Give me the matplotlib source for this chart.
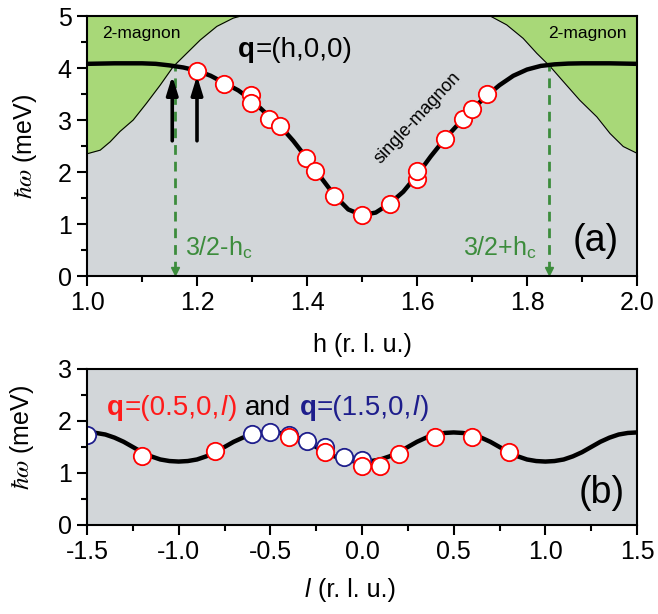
import matplotlib
matplotlib.use('Agg')
import matplotlib.pyplot as plt
import numpy as np
from matplotlib.ticker import MultipleLocator
from matplotlib.transforms import IdentityTransform

plt.rcParams['font.family'] = ['Liberation Sans', 'DejaVu Sans']
plt.rcParams['mathtext.fontset'] = 'stix'

# ---------------- data: panel (a) ----------------
h_curve = [1.000, 1.025, 1.050, 1.075, 1.100, 1.125, 1.150, 1.175, 1.200, 1.225,
           1.250, 1.275, 1.300, 1.325, 1.350, 1.375, 1.400, 1.425, 1.450, 1.475,
           1.500, 1.525, 1.550, 1.575, 1.600, 1.625, 1.650, 1.675, 1.700, 1.725,
           1.750, 1.775, 1.800, 1.825, 1.850, 1.875, 1.900, 1.925, 1.950, 1.975, 2.000]
e_curve = [4.08, 4.085, 4.09, 4.09, 4.09, 4.08, 4.05, 4.01, 3.95, 3.85,
           3.71, 3.57, 3.38, 3.13, 2.90, 2.60, 2.26, 1.90, 1.55, 1.28,
           1.17, 1.22, 1.39, 1.62, 1.94, 2.30, 2.63, 2.92, 3.20, 3.45,
           3.67, 3.85, 3.97, 4.04, 4.07, 4.085, 4.09, 4.09, 4.09, 4.085, 4.08]

h_data = [1.200, 1.249, 1.299, 1.299, 1.330, 1.350, 1.399, 1.415, 1.449,
          1.500, 1.551, 1.600, 1.600, 1.651, 1.684, 1.700, 1.728]
e_data = [3.95, 3.70, 3.49, 3.32, 3.01, 2.89, 2.26, 2.01, 1.54,
          1.17, 1.39, 1.87, 2.01, 2.63, 3.01, 3.22, 3.50]

# two-magnon continuum lower boundary
left_h = [1.000, 1.024, 1.042, 1.060, 1.084, 1.108, 1.133, 1.157, 1.181, 1.206, 1.236, 1.266, 1.280]
left_e = [2.35, 2.42, 2.58, 2.78, 3.00, 3.32, 3.67, 4.03, 4.28, 4.54, 4.80, 4.96, 5.00]
right_h = [1.720, 1.733, 1.763, 1.793, 1.818, 1.842, 1.866, 1.896, 1.927, 1.951, 1.975, 2.000]
right_e = [5.00, 5.00, 4.83, 4.57, 4.28, 4.03, 3.74, 3.38, 3.06, 2.74, 2.49, 2.36]

hc_left, hc_right = 1.16, 1.84
arrow_h = [1.155, 1.200]

# ---------------- data: panel (b) ----------------
l_curve = [-1.50, -1.45, -1.40, -1.35, -1.30, -1.25, -1.20, -1.15, -1.10, -1.05,
           -1.00, -0.95, -0.90, -0.85, -0.80, -0.75, -0.70, -0.65, -0.60, -0.55,
           -0.50, -0.45, -0.40, -0.35, -0.30, -0.25, -0.20, -0.15, -0.10, -0.05,
           0.00, 0.05, 0.10, 0.15, 0.20, 0.25, 0.30, 0.35, 0.40, 0.45,
           0.50, 0.55, 0.60, 0.65, 0.70, 0.75, 0.80, 0.85, 0.90, 0.95,
           1.00, 1.05, 1.10, 1.15, 1.20, 1.25, 1.30, 1.35, 1.40, 1.45, 1.50]
w_curve = [1.78, 1.77, 1.74, 1.68, 1.60, 1.50, 1.40, 1.32, 1.26, 1.23,
           1.22, 1.23, 1.26, 1.32, 1.40, 1.50, 1.60, 1.68, 1.74, 1.77,
           1.78, 1.77, 1.74, 1.68, 1.60, 1.50, 1.40, 1.32, 1.26, 1.23,
           1.22, 1.23, 1.26, 1.32, 1.40, 1.50, 1.60, 1.68, 1.74, 1.77,
           1.78, 1.77, 1.74, 1.68, 1.60, 1.50, 1.40, 1.32, 1.26, 1.23,
           1.22, 1.23, 1.26, 1.32, 1.40, 1.50, 1.60, 1.68, 1.74, 1.77, 1.78]

l_red = [-1.2, -0.8, -0.4, -0.2, 0.0, 0.1, 0.2, 0.4, 0.6, 0.8]
w_red = [1.33, 1.43, 1.69, 1.40, 1.14, 1.14, 1.36, 1.70, 1.70, 1.40]
l_blue = [-1.5, -0.6, -0.5, -0.4, -0.3, -0.2, -0.1, 0.0]
w_blue = [1.73, 1.75, 1.79, 1.73, 1.62, 1.50, 1.31, 1.25]

# ---------------- styling ----------------
GREY = '#d2d6d9'
GREEN = '#a8d878'
DGREEN = '#3c8c3c'
RED = '#ff1a1a'
NAVY = '#1e1e8c'
W, H = 658, 614

fig = plt.figure(figsize=(W / 100, H / 100), dpi=100)
ax1 = fig.add_axes([87 / W, 1 - 276 / H, 550 / W, 260 / H])
ax2 = fig.add_axes([87 / W, 1 - 525 / H, 550 / W, 156 / H])

for ax in (ax1, ax2):
    ax.set_facecolor(GREY)
    for s in ax.spines.values():
        s.set_linewidth(1.5)
        s.set_zorder(10)
    ax.tick_params(which='major', direction='out', length=7, width=1.5,
                   labelsize=18, pad=4)
    ax.tick_params(which='minor', direction='out', length=4, width=1.5)

# ---- panel (a)
ax1.fill_between(left_h, left_e, 5, color=GREEN, lw=0, zorder=1)
ax1.fill_between(right_h, right_e, 5, color=GREEN, lw=0, zorder=1)
ax1.plot(left_h, left_e, color='k', lw=0.8, zorder=1.5)
ax1.plot(right_h, right_e, color='k', lw=0.8, zorder=1.5)

for hx, top in ((hc_left, 4.05), (hc_right, 4.07)):
    ax1.plot([hx, hx], [0.1, top], ls=(0, (3.5, 2.5)), color=DGREEN, lw=2, zorder=2)
    ax1.plot([hx], [0.1], marker='v', ms=6, color=DGREEN, mec=DGREEN, zorder=2, clip_on=False)

ax1.plot(h_curve, e_curve, color='k', lw=3.2, zorder=3, solid_capstyle='butt')

for hx in arrow_h:
    ax1.annotate('', xy=(hx, 3.85), xytext=(hx, 2.6),
                 arrowprops=dict(arrowstyle='-|>,head_length=0.55,head_width=0.17',
                                 lw=2.6, color='k', shrinkA=0, shrinkB=0,
                                 mutation_scale=20), zorder=5)

ax1.plot(h_data, e_data, 'o', mfc='white', mec='red', ms=12.5, mew=1.3, zorder=4)

ax1.set_xlim(1.0, 2.0)
ax1.set_ylim(0, 5)
ax1.xaxis.set_minor_locator(MultipleLocator(0.1))
ax1.yaxis.set_major_locator(MultipleLocator(1))
ax1.yaxis.set_minor_locator(MultipleLocator(0.5))
ax1.set_xticks([1.0, 1.2, 1.4, 1.6, 1.8, 2.0])
ax1.set_xticklabels(['1.0', '1.2', '1.4', '1.6', '1.8', '2.0'])
ax1.set_xlabel('h (r. l. u.)', fontsize=18, labelpad=13)
ax1.set_ylabel(r'$\hbar\omega$ (meV)', fontsize=18, va='center')
ax1.yaxis.set_label_coords(-0.113, 0.5)

ax1.text(1.099, 4.67, '2-magnon', fontsize=12.5, ha='center', va='center', zorder=6)
ax1.text(1.91, 4.67, '2-magnon', fontsize=12.5, ha='center', va='center', zorder=6)
ax1.text(1.602, 3.04, 'single-magnon', fontsize=13, rotation=47,
         ha='center', va='center', zorder=6)
ax1.text(1.178, 0.55, r'3/2-h$_\mathregular{c}$', fontsize=18, color=DGREEN,
         ha='left', va='center', zorder=6)
ax1.text(1.684, 0.55, r'3/2+h$_\mathregular{c}$', fontsize=18, color=DGREEN,
         ha='left', va='center', zorder=6)
ax1.text(1.924, 0.67, '(a)', fontsize=27, ha='center', va='center', zorder=6)

# ---- panel (b)
ax2.plot(l_curve, w_curve, color='k', lw=3.2, zorder=3)
ax2.plot(l_blue, w_blue, 'o', mfc='white', mec=NAVY, ms=12.5, mew=1.3, zorder=4)
ax2.plot(l_red, w_red, 'o', mfc='white', mec='red', ms=12.5, mew=1.3, zorder=5)
ax2.set_xlim(-1.5, 1.5)
ax2.set_ylim(0, 3)
ax2.set_xticks([-1.5, -1.0, -0.5, 0.0, 0.5, 1.0, 1.5])
ax2.set_xticklabels(['-1.5', '-1.0', '-0.5', '0.0', '0.5', '1.0', '1.5'])
ax2.xaxis.set_minor_locator(MultipleLocator(0.25))
ax2.yaxis.set_major_locator(MultipleLocator(1))
ax2.yaxis.set_minor_locator(MultipleLocator(0.5))
ax2.set_ylabel(r'$\hbar\omega$ (meV)', fontsize=18, va='center')
ax2.yaxis.set_label_coords(-0.118, 0.56)
ax2.text(1.309, 0.61, '(b)', fontsize=27, ha='center', va='center', zorder=6)

# ---- multi-styled text pieces, chained in pixel coordinates
fig.canvas.draw()
renderer = fig.canvas.get_renderer()


def chain(x_px, y_px, pieces, size):
    for s, kw in pieces:
        if s == ' ':
            x_px += size * 0.278 * 100 / 72
            continue
        t = fig.text(x_px, y_px, s, transform=IdentityTransform(), ha='left',
                     va='baseline', fontsize=size, zorder=20, **kw)
        x_px = t.get_window_extent(renderer).x1 + size * 0.03


# q=(h,0,0)
x0, y0 = ax1.transData.transform((1.275, 4.22))
chain(x0, y0, [('q', dict(fontweight='bold')), ('=(h,0,0)', {})], 20)

# q=(0.5,0,l) and q=(1.5,0,l)
x0, y0 = ax2.transData.transform((-1.389, 2.12))
chain(x0, y0, [('q', dict(fontweight='bold', color=RED)),
               ('=(0.5,0,', dict(color=RED)),
               ('l', dict(color=RED, style='italic')),
               (')', dict(color=RED)),
               (' ', {}),
               ('and', dict(color='k')),
               (' ', {}),
               ('q', dict(fontweight='bold', color=NAVY)),
               ('=(1.5,0,', dict(color=NAVY)),
               ('l', dict(color=NAVY, style='italic')),
               (')', dict(color=NAVY))], 20)

# bottom x label: l (r. l. u.)
chain(305, H - 597, [('l', dict(style='italic')), (' ', {}),
                     ('(r. l. u.)', {})], 18)

fig.savefig('out.png', dpi=100)
